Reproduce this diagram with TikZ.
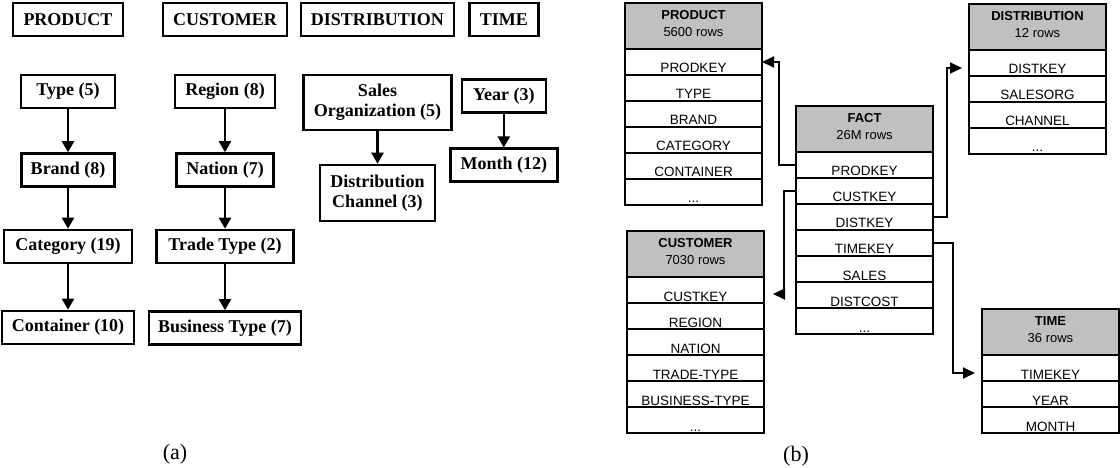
\documentclass[tikz,border=0pt]{standalone}
\usepackage{fontspec}
\setmainfont{Liberation Serif}
\newfontfamily\tblfont{Liberation Sans}
\usetikzlibrary{arrows.meta,positioning}
\definecolor{hdrgray}{HTML}{C0C0C0}

\begin{document}
\begin{tikzpicture}[x=1pt,y=-1pt,
  lvl/.style={draw,line width=2.6pt,minimum height=33,inner sep=0pt,align=center,
              font=\fontsize{18}{20}\selectfont\bfseries},
  down/.style={-{Triangle[length=11pt,width=12pt]},line width=2.4pt},
  hdr/.style={draw,line width=2pt,fill=hdrgray,minimum width=137,minimum height=46,
              inner sep=0pt,outer sep=0pt,anchor=north west,align=center,text depth=5pt,
              font=\tblfont\fontsize{13}{17.5}\selectfont},
  row/.style={draw,line width=2pt,minimum width=137,minimum height=26,inner xsep=0pt,
              inner ysep=1pt,outer sep=0pt,text height=23pt,text depth=1pt,
              font=\tblfont\fontsize{13.5}{15}\selectfont},
  fk/.style={-{Triangle[length=12pt,width=11pt]},line width=1.8pt},
  sublbl/.style={font=\fontsize{22}{24}\selectfont}]

\useasboundingbox (0,0) rectangle (1120,468);

% ------------------------------- (a) --------------------------------------
\node[lvl,minimum width=110] (prod) at (68,19.5)    {PRODUCT};
\node[lvl,minimum width=124] (cust) at (225,19.5)   {CUSTOMER};
\node[lvl,minimum width=153] (dist) at (377.3,19.5) {DISTRIBUTION};
\node[lvl,minimum width=69]  (time) at (503.8,19.5) {TIME};

\node[lvl,minimum width=94]  (type)  at (68,91.5)  {Type (5)};
\node[lvl,minimum width=93]  (brand) at (68,170)   {Brand (8)};
\node[lvl,minimum width=128] (categ) at (68,246.5) {Category (19)};
\node[lvl,minimum width=132] (cont)  at (68,327.5) {Container (10)};
\draw[down] (type) -- (brand);
\draw[down] (brand) -- (categ);
\draw[down] (categ) -- (cont);

\node[lvl,minimum width=100] (region) at (225,91.5)  {Region (8)};
\node[lvl,minimum width=97]  (nation) at (225,170)   {Nation (7)};
\node[lvl,minimum width=137] (trade)  at (225,246.5) {Trade Type (2)};
\node[lvl,minimum width=152] (busin)  at (225,328)   {Business Type (7)};
\draw[down] (region) -- (nation);
\draw[down] (nation) -- (trade);
\draw[down] (trade) -- (busin);

\node[lvl,minimum width=148,minimum height=55] (salesorg) at (377.5,102.5) {Sales\\Organization (5)};
\node[lvl,minimum width=115,minimum height=56] (channel)  at (377.5,193)   {Distribution\\Channel (3)};
\draw[down] (salesorg) -- (channel);

\node[lvl,minimum width=84]  (year)  at (503.8,96)    {Year (3)};
\node[lvl,minimum width=107] (month) at (503.8,165.3) {Month (12)};
\draw[down] (year) -- (month);

\node[sublbl] (lbla) at (175,454) {(a)};

% ------------------------------- (b) --------------------------------------
\node[hdr] (p0) at (625,3) {{\bfseries PRODUCT}\\5600 rows};
\foreach \fld [count=\i] in {PRODKEY,TYPE,BRAND,CATEGORY,CONTAINER}{
  \pgfmathtruncatemacro\j{\i-1}
  \node[row,below=0pt of p\j] (p\i) {\fld};}
\node[row,below=0pt of p5] (p6) {...};

\node[hdr] (f0) at (796,106) {{\bfseries FACT}\\26M rows};
\foreach \fld [count=\i] in {PRODKEY,CUSTKEY,DISTKEY,TIMEKEY,SALES,DISTCOST}{
  \pgfmathtruncatemacro\j{\i-1}
  \node[row,below=0pt of f\j] (f\i) {\fld};}
\node[row,below=0pt of f6] (f7) {...};

\node[hdr] (c0) at (627,231) {{\bfseries CUSTOMER}\\7030 rows};
\foreach \fld [count=\i] in {CUSTKEY,REGION,NATION,TRADE-TYPE,BUSINESS-TYPE}{
  \pgfmathtruncatemacro\j{\i-1}
  \node[row,below=0pt of c\j] (c\i) {\fld};}
\node[row,below=0pt of c5] (c6) {...};

\node[hdr] (d0) at (969,4) {{\bfseries DISTRIBUTION}\\12 rows};
\foreach \fld [count=\i] in {DISTKEY,SALESORG,CHANNEL}{
  \pgfmathtruncatemacro\j{\i-1}
  \node[row,below=0pt of d\j] (d\i) {\fld};}
\node[row,below=0pt of d3] (d4) {...};

\node[hdr] (t0) at (982,309) {{\bfseries TIME}\\36 rows};
\foreach \fld [count=\i] in {TIMEKEY,YEAR,MONTH}{
  \pgfmathtruncatemacro\j{\i-1}
  \node[row,below=0pt of t\j] (t\i) {\fld};}

% foreign keys
\draw[fk] (f1.west) -- ++(-17,0) |- (p1.east);
\draw[fk,shorten >=9pt] (f2.west) -- ++(-12,0) |- ([yshift=-4pt]c1.east);
\draw[fk,shorten >=7pt] (f3.east) -- ++(14,0) |- ([yshift=-5pt]d1.west);
\draw[fk,shorten >=7pt] (f4.east) -- ++(20,0) |- ([yshift=-5pt]t1.west);

\node[sublbl] (lblb) at (796,456) {(b)};
\end{tikzpicture}
\end{document}
